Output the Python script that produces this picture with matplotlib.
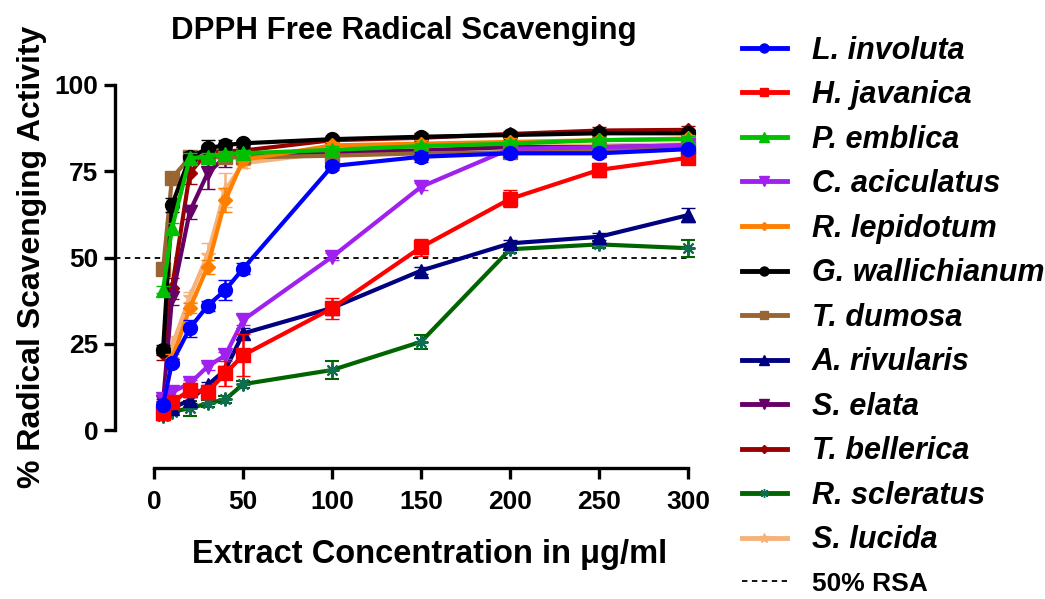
import numpy as np
import matplotlib
matplotlib.use('Agg')
import matplotlib.pyplot as plt
from matplotlib.lines import Line2D

plt.rcParams['font.family'] = ['Liberation Sans', 'DejaVu Sans']
plt.rcParams['font.weight'] = 'bold'

# Concentraciones (ug/ml)
conc = [5, 10, 20, 30, 40, 50, 100, 150, 200, 250, 300]

species = ['L. involuta', 'H. javanica', 'P. emblica', 'C. aciculatus',
           'R. lepidotum', 'G. wallichianum', 'T. dumosa', 'A. rivularis',
           'S. elata', 'T. bellerica', 'R. scleratus', 'S. lucida']

# % RSA por especie
l_involuta = [7.4, 19.5, 29.5, 36.0, 40.6, 46.8, 76.5, 79.2, 80.2, 80.2, 81.4]
h_javanica = [4.8, 8.0, 11.6, 11.1, 16.4, 21.7, 35.3, 53.0, 67.0, 75.4, 78.9]
p_emblica = [40.6, 58.5, 78.8, 79.2, 80.0, 80.2, 81.2, 82.3, 83.0, 84.0, 84.3]
c_aciculatus = [9.0, 11.0, 13.5, 18.4, 21.7, 31.9, 50.2, 70.5, 81.5, 82.0, 82.5]
r_lepidotum = [6.0, 20.5, 35.3, 47.3, 66.7, 78.3, 82.5, 83.0, 83.5, 84.0, 84.5]
g_wallichianum = [23.2, 65.2, 79.0, 81.6, 82.6, 83.1, 84.3, 85.0, 85.5, 86.0, 86.0]
t_dumosa = [46.6, 73.0, 79.0, 79.2, 79.0, 79.0, 79.5, 80.2, 80.5, 81.2, 81.9]
a_rivularis = [5.0, 6.3, 8.7, 13.0, 17.5, 28.0, 35.4, 46.2, 54.1, 56.0, 62.3]
s_elata = [8.0, 38.2, 63.3, 74.4, 79.2, 79.5, 80.5, 81.0, 82.0, 82.0, 82.5]
t_bellerica = [22.2, 41.1, 74.4, 80.7, 80.8, 81.0, 84.0, 84.7, 85.8, 86.8, 87.0]
r_scleratus = [4.0, 5.3, 6.3, 7.7, 8.9, 13.3, 17.4, 25.6, 52.4, 53.8, 52.7]
s_lucida = [7.0, 24.2, 38.6, 50.7, 69.6, 77.3, 80.5, 81.5, 82.0, 82.5, 82.8]

# Error estandar
err_l_involuta = [1, 1, 2.5, 1.5, 3, 1.5, 1, 1.5, 1, 1, 1]
err_h_javanica = [1.5, 1.5, 2, 2, 3.5, 6, 3, 2.5, 2.5, 2, 1.5]
err_p_emblica = [1, 1.5, 1.5, 1, 1, 1, 1, 1, 1, 1, 1]
err_c_aciculatus = [1, 1, 1, 1, 1, 1.5, 1, 1, 1, 1, 1]
err_r_lepidotum = [1, 1.5, 1.5, 2, 3.5, 1.5, 1, 1, 1, 1, 1]
err_g_wallichianum = [1.5, 2, 1.5, 2.5, 1.5, 1, 1, 1, 1, 1, 1]
err_t_dumosa = [1, 1, 1, 1, 1, 1, 1, 1, 1, 1, 1]
err_a_rivularis = [1, 1, 1, 1, 1, 1.5, 1, 1, 1, 1, 2]
err_s_elata = [1, 2, 2, 4.5, 3, 1, 1, 1, 1, 1, 1]
err_t_bellerica = [2, 3, 3, 2, 1, 1, 1, 1, 1, 1, 1]
err_r_scleratus = [1, 1, 2.2, 1, 1, 1, 2.5, 2, 1, 1, 2.5]
err_s_lucida = [1, 3, 1.5, 3.5, 5, 1.5, 1, 1, 1, 1, 1]

valores = [l_involuta, h_javanica, p_emblica, c_aciculatus, r_lepidotum,
           g_wallichianum, t_dumosa, a_rivularis, s_elata, t_bellerica,
           r_scleratus, s_lucida]
errores = [err_l_involuta, err_h_javanica, err_p_emblica, err_c_aciculatus,
           err_r_lepidotum, err_g_wallichianum, err_t_dumosa, err_a_rivularis,
           err_s_elata, err_t_bellerica, err_r_scleratus, err_s_lucida]

colores = ['#0000FF', '#FF0000', '#00C000', '#A020F0', '#FF8000', '#000000',
           '#996633', '#000080', '#660066', '#990000', '#006400', '#F5B27A']
marcadores = ['o', 's', '^', 'v', 'D', 'o', 's', '^', 'v', 'D', (8, 2, 0), '*']
tamanos = [10, 9.5, 10, 10, 7, 10, 9.5, 10, 10, 7, 10, 11]

fig = plt.figure(figsize=(10.45, 5.99), dpi=100)
ax = fig.add_axes([0.11005, 0.2187, 0.557, 0.6567])

handles = []
for i, (nombre, y, e, c, m, ms) in enumerate(zip(species, valores, errores,
                                                  colores, marcadores, tamanos)):
    mec = '#0E6E4E' if nombre == 'R. scleratus' else c
    ax.errorbar(conc, y, yerr=e, color=c, marker=m, markersize=ms,
                markeredgecolor=mec, markeredgewidth=1.5 if m == (8, 2, 0) else 1,
                linewidth=3, elinewidth=1.8, capsize=5, capthick=1.8,
                zorder=30 - i, clip_on=False)
    handles.append(Line2D([], [], color=c, marker=m, markersize=ms * 0.65,
                          markeredgecolor=mec, linewidth=3.5, label=nombre))

# Linea del 50%
xmin = -22
ax.hlines(50, xmin, 300, colors='black', linestyles=(0, (3, 2.5)),
          linewidth=1.3, zorder=1)
handles.append(Line2D([], [], color='black', linestyle=(0, (3, 2.5)),
                      linewidth=1.3, label='50% RSA'))

ax.set_xlim(xmin, 305)
ax.set_ylim(-11, 103)

# Ejes estilo Prism
for s in ['top', 'right']:
    ax.spines[s].set_visible(False)
ax.spines['left'].set_bounds(0, 100)
ax.spines['bottom'].set_bounds(0, 300)
ax.spines['left'].set_linewidth(2.4)
ax.spines['bottom'].set_linewidth(2.4)

ax.set_xticks([0, 50, 100, 150, 200, 250, 300])
ax.set_yticks([0, 25, 50, 75, 100])
ax.tick_params(axis='both', width=2.4, length=8, labelsize=19)
ax.tick_params(axis='y', pad=4)
ax.tick_params(axis='x', pad=8)
for lbl in ax.get_xticklabels() + ax.get_yticklabels():
    lbl.set_fontweight('bold')

ax.set_xlabel('Extract Concentration in μg/ml', fontsize=23.5, fontweight='bold')
ax.xaxis.set_label_coords(0.541, -0.18)
ax.set_ylabel('% Radical Scavenging Activity', fontsize=23, fontweight='bold')
ax.yaxis.set_label_coords(-0.116, 0.537)

fig.text(0.386, 0.948, 'DPPH Free Radical Scavenging', fontsize=22.5,
         fontweight='bold', ha='center', va='center')

leg = fig.legend(handles=handles, loc='upper left', bbox_to_anchor=(0.695, 0.966),
                 frameon=False, borderpad=0, handlelength=1.5, handletextpad=0.8,
                 labelspacing=0.475, prop={'size': 22, 'weight': 'bold', 'style': 'italic'})
leg.get_texts()[-1].set_fontstyle('normal')
leg.get_texts()[-1].set_fontsize(19)

fig.savefig('out.png', dpi=100)
